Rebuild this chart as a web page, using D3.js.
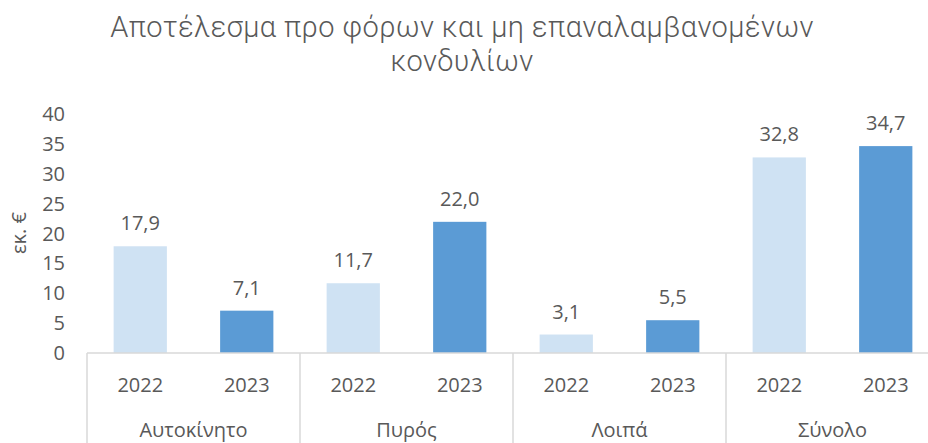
<!DOCTYPE html>
<html>
<head>
<meta charset="utf-8">
<script src="https://cdn.jsdelivr.net/npm/d3@7"></script>
<style>
  body { margin: 0; background: #fff; }
  svg { display: block; }
</style>
</head>
<body>
<div id="main"></div>
<script>
var categories = ["Αυτοκίνητο", "Πυρός", "Λοιπά", "Σύνολο"];
var years = ["2022", "2023"];
var values2022 = [17.9, 11.7, 3.1, 32.8];
var values2023 = [7.1, 22.0, 5.5, 34.7];
var yTicks = [0, 5, 10, 15, 20, 25, 30, 35, 40];
var titleLines = ["Αποτέλεσμα προ φόρων και μη επαναλαμβανομένων", "κονδυλίων"];
var yLabel = "εκ. €";

var ctx = {
    w: 928,
    h: 443,
    left: 87,
    right: 939,
    top: 114.5,
    bottom: 353,
    LIGHT: "#CFE2F3",
    DARK: "#5B9BD5",
    TEXT: "#595959",
    LINE: "#D9D9D9",
    font: "'Open Sans', sans-serif"
};

var createViz = function(){
    var svgEl = d3.select("#main").append("svg")
        .attr("width", ctx.w)
        .attr("height", ctx.h)
        .style("font-family", ctx.font);

    // rows: one per category, values per year
    var rows = categories.map((c, i) => ({cat: c, vals: [values2022[i], values2023[i]]}));

    var xOuter = d3.scaleBand().domain(categories).range([ctx.left, ctx.right]).padding(0);
    var xInner = d3.scaleBand().domain(years).range([0, xOuter.bandwidth()])
        .paddingInner(0.5).paddingOuter(0.25);
    var yScale = d3.scaleLinear().domain([0, 40]).range([ctx.bottom, ctx.top]);
    var colors = d3.scaleOrdinal().domain(years).range([ctx.LIGHT, ctx.DARK]);

    // title (Roboto light, tighter line box than Open Sans)
    svgEl.append("g").selectAll("text").data(titleLines).enter().append("text")
        .attr("x", 462)
        .attr("y", (d, i) => 37 + i * 34)
        .attr("text-anchor", "middle")
        .attr("fill", ctx.TEXT)
        .style("font-family", "Roboto, sans-serif")
        .style("font-size", "29px")
        .style("font-weight", 300)
        .style("letter-spacing", "0.4px")
        .text(d => d);

    // y axis, labels only
    var yAx = svgEl.append("g")
        .attr("transform", "translate(" + ctx.left + ",0)")
        .call(d3.axisLeft(yScale).tickValues(yTicks).tickSize(0).tickPadding(22));
    yAx.select(".domain").remove();
    yAx.selectAll("text").attr("fill", ctx.TEXT).style("font-size", "20px")
        .style("font-family", ctx.font);

    svgEl.append("text")
        .attr("transform", "translate(26,233) rotate(-90)")
        .attr("text-anchor", "middle")
        .attr("fill", ctx.TEXT)
        .style("font-size", "20px")
        .text(yLabel);

    // bars
    var groups = svgEl.selectAll("g.grp").data(rows).enter().append("g")
        .attr("class", "grp")
        .attr("transform", d => "translate(" + xOuter(d.cat) + ",0)");

    groups.selectAll("rect").data(d => d.vals.map((v, j) => ({year: years[j], v: v})))
        .enter().append("rect")
        .attr("x", d => xInner(d.year))
        .attr("y", d => yScale(d.v))
        .attr("width", xInner.bandwidth())
        .attr("height", d => ctx.bottom - yScale(d.v))
        .attr("fill", d => colors(d.year));

    groups.selectAll("text.val").data(d => d.vals.map((v, j) => ({year: years[j], v: v})))
        .enter().append("text")
        .attr("class", "val")
        .attr("x", d => xInner(d.year) + xInner.bandwidth() / 2)
        .attr("y", d => yScale(d.v) - 16)
        .attr("text-anchor", "middle")
        .attr("fill", ctx.TEXT)
        .style("font-size", "20px")
        .text(d => d.v.toFixed(1).replace(".", ","));

    // year labels
    groups.selectAll("text.yr").data(years).enter().append("text")
        .attr("class", "yr")
        .attr("x", d => xInner(d) + xInner.bandwidth() / 2)
        .attr("y", 392)
        .attr("text-anchor", "middle")
        .attr("fill", ctx.TEXT)
        .style("font-size", "20px")
        .text(d => d);

    // category labels
    groups.append("text")
        .attr("x", xOuter.bandwidth() / 2)
        .attr("y", 437)
        .attr("text-anchor", "middle")
        .attr("fill", ctx.TEXT)
        .style("font-size", "20px")
        .text(d => d.cat);

    // x axis line and separators
    svgEl.append("line")
        .attr("x1", ctx.left).attr("x2", ctx.right)
        .attr("y1", ctx.bottom).attr("y2", ctx.bottom)
        .attr("stroke", ctx.LINE).attr("stroke-width", 1.5);
    var bounds = categories.map(c => xOuter(c)).concat([ctx.right]);
    svgEl.selectAll("line.sep").data(bounds).enter().append("line")
        .attr("class", "sep")
        .attr("x1", d => d).attr("x2", d => d)
        .attr("y1", ctx.bottom).attr("y2", ctx.h)
        .attr("stroke", ctx.LINE).attr("stroke-width", 1.5);
};

createViz();
</script>
</body>
</html>
